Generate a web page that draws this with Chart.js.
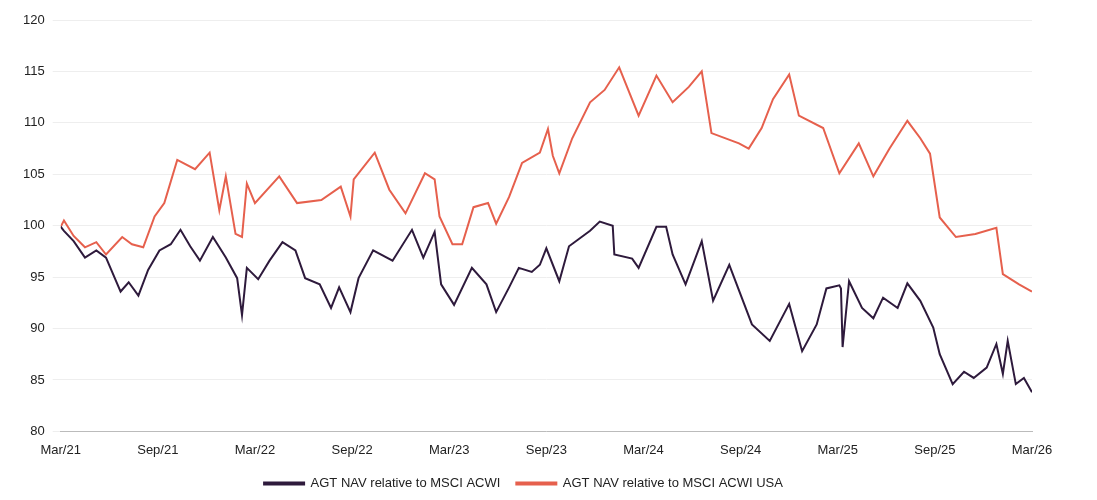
<!DOCTYPE html>
<html>
<head>
<meta charset="utf-8">
<script src="https://cdn.jsdelivr.net/npm/chart.js@4"></script>
<style>
  body { margin: 0; background: #fff; }
  #wrap { width: 1097px; height: 500px; }
</style>
</head>
<body>
<div id="wrap"><canvas id="navChart"></canvas></div>
<script>
// months since Mar/21
var acwiMonths = [0,0.2,0.8,1.5,2.2,2.8,3.7,4.2,4.8,5.4,6.1,6.8,7.4,8,8.6,9.4,10.2,10.9,11.2,11.5,12.2,12.9,13.7,14.5,15.1,16,16.7,17.2,17.9,18.4,19.3,20.5,21.7,22.4,23.1,23.5,24.3,25.4,26.3,26.9,27.7,28.3,29.1,29.6,30,30.8,31.4,32.7,33.3,34.1,34.2,35.3,35.7,36.8,37.4,37.8,38.6,39.6,40.3,41.3,42.7,43.8,45,45.8,46.7,47.3,48.1,48.2,48.3,48.7,49.5,50.2,50.8,51.7,52.3,53.1,53.9,54.3,55.1,55.8,56.4,57.2,57.8,58.2,58.5,59,59.5,60];
var acwiValues = [99.9,99.5,98.5,96.9,97.6,96.9,93.6,94.5,93.2,95.7,97.6,98.2,99.6,98,96.6,98.9,96.9,94.9,91.3,95.9,94.8,96.6,98.4,97.6,94.9,94.3,92,94,91.6,94.9,97.6,96.6,99.6,96.9,99.4,94.3,92.3,95.9,94.3,91.6,94,95.9,95.5,96.2,97.8,94.6,98,99.5,100.4,100,97.2,96.8,95.9,99.9,99.9,97.2,94.3,98.5,92.7,96.2,90.4,88.8,92.4,87.8,90.4,93.9,94.2,93.9,88.2,94.6,92,91,93,92,94.4,92.7,90.1,87.5,84.6,85.8,85.2,86.2,88.5,85.6,88.8,84.6,85.2,83.8];

var usaMonths = [0,0.2,0.8,1.5,2.2,2.8,3.8,4.4,5.1,5.8,6.4,7.2,8.3,9.2,9.8,10.2,10.8,11.2,11.5,12,13.5,14.6,16.1,17.3,17.9,18.1,19.4,20.3,21.3,22.5,23.1,23.4,24.2,24.8,25.5,26.4,26.9,27.7,28.5,29.6,30.1,30.4,30.8,31.6,32.7,33.6,34.5,35.7,36.8,37.8,38.8,39.6,40.2,41.9,42.5,43.3,44,45,45.6,47.1,48.1,49.3,50.2,51.2,52.3,53.1,53.7,54.3,55.3,56.5,57.8,58.2,59.2,60];
var usaValues = [99.9,100.5,99,97.9,98.4,97.2,98.9,98.2,97.9,100.9,102.2,106.4,105.5,107.1,101.5,104.8,99.2,98.9,104.1,102.2,104.8,102.2,102.5,103.8,100.9,104.5,107.1,103.5,101.2,105.1,104.5,100.9,98.2,98.2,101.8,102.2,100.2,102.8,106.1,107.1,109.4,106.8,105.1,108.5,112,113.2,115.4,110.7,114.6,112,113.5,115,109,108,107.5,109.5,112.3,114.7,110.7,109.5,105.1,108,104.8,107.5,110.2,108.5,107,100.8,98.9,99.2,99.8,95.3,94.3,93.6];

var tickLabels = ['Mar/21','Sep/21','Mar/22','Sep/22','Mar/23','Sep/23','Mar/24','Sep/24','Mar/25','Sep/25','Mar/26'];

function toPoints(xs, ys) {
  var pts = [];
  for (var i = 0; i < xs.length; i++) pts.push({x: xs[i], y: ys[i]});
  return pts;
}

new Chart(document.getElementById('navChart'), {
  type: 'line',
  data: {
    datasets: [{
      label: 'AGT NAV relative to MSCI ACWI',
      data: toPoints(acwiMonths, acwiValues),
      borderColor: '#2e1a3c',
      backgroundColor: '#2e1a3c',
      borderWidth: 2,
      pointRadius: 0,
      tension: 0
    }, {
      label: 'AGT NAV relative to MSCI ACWI USA',
      data: toPoints(usaMonths, usaValues),
      borderColor: '#e6604d',
      backgroundColor: '#e6604d',
      borderWidth: 2,
      pointRadius: 0,
      tension: 0
    }]
  },
  options: {
    responsive: true,
    maintainAspectRatio: false,
    animation: false,
    layout: { padding: { left: 15, right: 65, top: 20, bottom: 0 } },
    plugins: {
      legend: {
        position: 'bottom',
        labels: {
          boxWidth: 40, boxHeight: 2, padding: 16,
          color: '#222', font: { family: 'Liberation Sans, Arial', size: 13 }
        }
      },
      tooltip: { enabled: false }
    },
    scales: {
      x: {
        type: 'linear', min: 0, max: 60,
        grid: { display: false },
        border: { color: '#bbb' },
        ticks: {
          stepSize: 6, maxRotation: 0, color: '#222',
          font: { family: 'Liberation Sans, Arial', size: 13 },
          callback: function (v) { return tickLabels[v / 6]; }
        }
      },
      y: {
        min: 80, max: 120,
        grid: { color: '#eeeeee' },
        border: { display: false },
        ticks: { stepSize: 5, color: '#222', padding: 8, font: { family: 'Liberation Sans, Arial', size: 13 } }
      }
    }
  }
});
</script>
</body>
</html>
